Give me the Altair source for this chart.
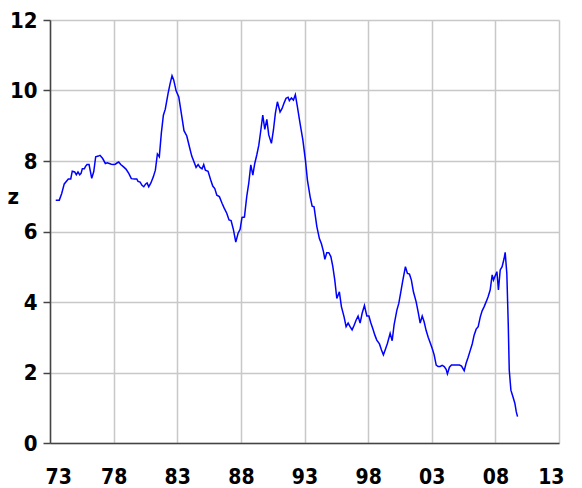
import altair as alt
import pandas as pd

years = [
    1973.45, 1973.73, 1973.92, 1974.12, 1974.44, 1974.63, 1974.75, 1974.94, 1975.07, 1975.20,
    1975.33, 1975.44, 1975.54, 1975.70, 1975.78, 1975.91, 1976.07, 1976.28, 1976.44, 1976.59,
    1976.80, 1976.93, 1977.14, 1977.35, 1977.50, 1977.66, 1977.82, 1977.98, 1978.13, 1978.29,
    1978.40, 1978.56, 1978.76, 1978.97, 1979.19, 1979.39, 1979.66, 1979.82, 1979.92, 1980.08,
    1980.23, 1980.37, 1980.52, 1980.63, 1980.76, 1980.92, 1981.12, 1981.28, 1981.44, 1981.59,
    1981.75, 1981.91, 1982.06, 1982.28, 1982.43, 1982.59, 1982.72, 1982.91, 1983.12, 1983.32,
    1983.53, 1983.75, 1983.95, 1984.14, 1984.32, 1984.48, 1984.64, 1984.79, 1984.95, 1985.08,
    1985.21, 1985.42, 1985.63, 1985.79, 1985.95, 1986.11, 1986.31, 1986.52, 1986.68, 1986.89,
    1987.07, 1987.23, 1987.41, 1987.60, 1987.78, 1987.94, 1988.09, 1988.28, 1988.46, 1988.62,
    1988.78, 1988.94, 1989.09, 1989.25, 1989.41, 1989.57, 1989.72, 1989.88, 1990.04, 1990.19,
    1990.40, 1990.56, 1990.71, 1990.87, 1991.08, 1991.24, 1991.40, 1991.55, 1991.71, 1991.81,
    1991.97, 1992.13, 1992.28, 1992.44, 1992.65, 1992.87, 1993.07, 1993.23, 1993.44, 1993.60,
    1993.75, 1993.97, 1994.17, 1994.33, 1994.49, 1994.60, 1994.75, 1994.91, 1995.07, 1995.22,
    1995.38, 1995.54, 1995.74, 1995.90, 1996.11, 1996.27, 1996.43, 1996.58, 1996.74, 1996.90,
    1997.06, 1997.21, 1997.37, 1997.53, 1997.71, 1997.90, 1998.06, 1998.21, 1998.37, 1998.53,
    1998.68, 1998.89, 1999.05, 1999.20, 1999.36, 1999.52, 1999.73, 1999.89, 2000.04, 2000.26,
    2000.41, 2000.57, 2000.73, 2000.93, 2001.09, 2001.25, 2001.40, 2001.56, 2001.77, 2001.93,
    2002.09, 2002.25, 2002.40, 2002.56, 2002.72, 2002.87, 2003.03, 2003.19, 2003.35, 2003.50,
    2003.66, 2003.82, 2003.98, 2004.13, 2004.23, 2004.39, 2004.55, 2004.86, 2005.18, 2005.34,
    2005.55, 2005.70, 2005.86, 2006.02, 2006.18, 2006.33, 2006.49, 2006.65, 2006.81, 2006.96,
    2007.12, 2007.28, 2007.43, 2007.59, 2007.75, 2007.85, 2007.96, 2008.12, 2008.24, 2008.38,
    2008.53, 2008.69, 2008.77, 2008.90, 2009.01, 2009.09, 2009.22, 2009.38, 2009.53, 2009.64,
    2009.74,
]

values = [
    6.89, 6.89, 7.08, 7.35, 7.49, 7.49, 7.71, 7.69, 7.61, 7.69,
    7.61, 7.65, 7.78, 7.78, 7.84, 7.90, 7.90, 7.51, 7.70, 8.12,
    8.14, 8.16, 8.07, 7.93, 7.95, 7.93, 7.91, 7.90, 7.91, 7.95,
    7.97, 7.90, 7.84, 7.77, 7.65, 7.50, 7.49, 7.49, 7.42, 7.40,
    7.31, 7.27, 7.35, 7.38, 7.27, 7.37, 7.55, 7.74, 8.20, 8.12,
    8.79, 9.30, 9.47, 9.92, 10.18, 10.42, 10.30, 9.99, 9.82, 9.35,
    8.86, 8.71, 8.41, 8.14, 7.97, 7.82, 7.90, 7.82, 7.78, 7.90,
    7.74, 7.71, 7.46, 7.29, 7.22, 7.03, 6.99, 6.80, 6.67, 6.52,
    6.33, 6.31, 6.06, 5.70, 5.95, 6.06, 6.40, 6.41, 6.99, 7.37,
    7.89, 7.60, 7.93, 8.17, 8.45, 8.88, 9.30, 8.90, 9.18, 8.74,
    8.50, 8.88, 9.35, 9.68, 9.39, 9.49, 9.65, 9.78, 9.81, 9.71,
    9.79, 9.73, 9.88, 9.54, 9.07, 8.60, 8.03, 7.46, 6.99, 6.72,
    6.70, 6.14, 5.80, 5.65, 5.43, 5.21, 5.40, 5.40, 5.29, 5.02,
    4.62, 4.10, 4.29, 3.87, 3.58, 3.30, 3.40, 3.30, 3.21, 3.34,
    3.49, 3.60, 3.40, 3.68, 3.90, 3.60, 3.60, 3.41, 3.24, 3.06,
    2.92, 2.81, 2.64, 2.50, 2.66, 2.83, 3.11, 2.90, 3.35, 3.77,
    3.96, 4.29, 4.62, 5.00, 4.81, 4.79, 4.62, 4.29, 4.01, 3.72,
    3.40, 3.60, 3.44, 3.19, 3.00, 2.85, 2.69, 2.50, 2.21, 2.17,
    2.17, 2.20, 2.17, 2.09, 1.96, 2.15, 2.21, 2.21, 2.21, 2.18,
    2.05, 2.26, 2.43, 2.62, 2.81, 3.06, 3.23, 3.30, 3.57, 3.75,
    3.87, 4.01, 4.15, 4.34, 4.77, 4.62, 4.72, 4.86, 4.34, 4.91,
    5.00, 5.24, 5.41, 4.81, 3.40, 2.07, 1.50, 1.31, 1.13, 0.89,
    0.75,
]

x_ticks = [1973, 1978, 1983, 1988, 1993, 1998, 2003, 2008, 2013]
y_ticks = [0, 2, 4, 6, 8, 10, 12]

df = pd.DataFrame({"year": years, "value": values})

font = "DejaVu Sans Condensed, Liberation Sans Narrow, Liberation Sans, sans-serif"

chart = alt.Chart(df).mark_line(color="#0000ff", strokeWidth=1.5).encode(
    x=alt.X(
        "year:Q",
        scale=alt.Scale(domain=[1973, 2013], nice=False, zero=False),
        axis=alt.Axis(
            values=x_ticks,
            labelExpr="slice(toString(datum.value), 2)",
            title=None,
            ticks=False,
            labelFont=font,
            labelFontSize=21,
            labelFontWeight="bold",
            labelColor="#000000",
            labelPadding=23,
            labelBaseline="top",
            labelFlush=True,
            labelFlushOffset=5,
            domainColor="#444444",
            domainWidth=1.5,
            gridColor="#c8c8c8",
            gridWidth=1.5,
        ),
    ),
    y=alt.Y(
        "value:Q",
        scale=alt.Scale(domain=[0, 12], nice=False),
        axis=alt.Axis(
            values=y_ticks,
            title="z",
            titleAngle=0,
            titleAlign="left",
            titleBaseline="middle",
            titleX=-43,
            titleY=176,
            titleFont=font,
            titleFontSize=22,
            titleFontWeight="bold",
            titleColor="#000000",
            tickSize=7,
            tickColor="#444444",
            tickWidth=1.5,
            labelFont=font,
            labelFontSize=22,
            labelFontWeight="bold",
            labelColor="#000000",
            labelPadding=6,
            domainColor="#444444",
            domainWidth=1.5,
            gridColor="#c8c8c8",
            gridWidth=1.5,
        ),
    ),
).properties(
    width=509,
    height=423,
    autosize=alt.AutoSizeParams(type="none"),
    padding={"left": 42, "top": 12, "right": 15, "bottom": 45},
).configure_view(stroke=None)

chart.save("out.html", embed_options={"renderer": "svg", "actions": False})
